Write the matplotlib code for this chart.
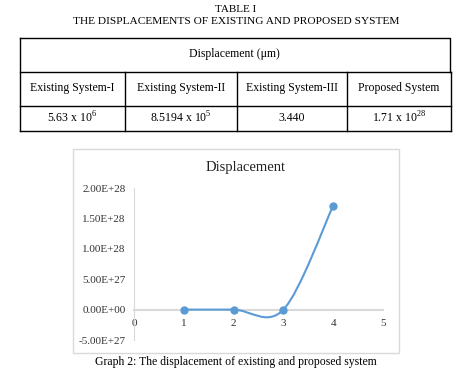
import matplotlib
matplotlib.use("Agg")
import matplotlib.pyplot as plt
from matplotlib.patches import Rectangle, PathPatch
from matplotlib.path import Path
from matplotlib.ticker import FuncFormatter

plt.rcParams['font.family'] = ['Liberation Serif', 'DejaVu Serif']
plt.rcParams['mathtext.fontset'] = 'custom'
plt.rcParams['mathtext.rm'] = 'Liberation Serif'

# table data
table_no = "TABLE I"
table_title = "THE DISPLACEMENTS OF EXISTING AND PROPOSED SYSTEM"
table_header = "Displacement (\u03bcm)"
systems = ["Existing System-I", "Existing System-II", "Existing System-III", "Proposed System"]
value_text = ["5.63 x 10$^{6}$", "8.5194 x 10$^{5}$", "3.440", "1.71 x 10$^{28}$"]

# chart data
x_vals = [1, 2, 3, 4]
displacement = [5.63e6, 8.5194e5, 3.440, 1.71e28]
x_ticks = [0, 1, 2, 3, 4, 5]
y_ticks = [-5e27, 0, 5e27, 1e28, 1.5e28, 2e28]
chart_title = "Displacement"
caption = "Graph 2: The displacement of existing and proposed system"

blue = "#5B9BD5"
grey = "#D9D9D9"

W, H = 472, 379
fig = plt.figure(figsize=(W / 100, H / 100), dpi=100)

# background layer in pixel coordinates for table, frame and caption
bg = fig.add_axes([0, 0, 1, 1])
bg.set_xlim(0, W)
bg.set_ylim(H, 0)
bg.axis('off')

bg.text(W / 2, 9, table_no, ha='center', va='center', fontsize=8)
bg.text(W / 2, 22, table_title, ha='center', va='center', fontsize=8.2)

left, right = 19.5, 451
col_edges = [left, 124.5, 237, 347, right]
top, mid1, mid2, bottom = 37.5, 71.5, 105.5, 131
lw = 1.0
bg.plot([left, 449.5, 449.5], [top, top, mid1], color='black', lw=lw)
bg.plot([left, left], [top, bottom], color='black', lw=lw)
bg.plot([left, right], [mid1, mid1], color='black', lw=lw)
bg.plot([left, right], [mid2, mid2], color='black', lw=lw)
bg.plot([left, right], [bottom, bottom], color='black', lw=lw)
for xe in col_edges[1:]:
    bg.plot([xe, xe], [mid1, bottom], color='black', lw=lw)
bg.text((left + 449.5) / 2, (top + mid1) / 2, table_header, ha='center', va='center', fontsize=8.5)
for i, (name, val) in enumerate(zip(systems, value_text)):
    cx = (col_edges[i] + col_edges[i + 1]) / 2
    bg.text(cx, (mid1 + mid2) / 2, name, ha='center', va='center', fontsize=8.5)
    bg.text(cx, (mid2 + bottom) / 2, val, ha='center', va='center', fontsize=8.5)

# chart frame
bg.add_patch(Rectangle((72.5, 148.5), 326, 204, fill=False, edgecolor=grey, lw=1))
bg.text(95, 362, caption, ha='left', va='center', fontsize=8.5)

# plot area
ax = fig.add_axes([134 / W, (H - 340) / H, (383 - 134) / W, (340 - 188) / H])
ax.set_xlim(0, 5)
ax.set_ylim(-5e27, 2e28)
ax.patch.set_alpha(0)
for s in ['top', 'right']:
    ax.spines[s].set_visible(False)
ax.spines['left'].set_color(grey)
ax.spines['bottom'].set_color(grey)
ax.spines['bottom'].set_position(('data', 0))
ax.spines['bottom'].set_linewidth(1.5)
ax.set_xticks(x_ticks)
ax.set_yticks(y_ticks)
ax.yaxis.set_major_formatter(FuncFormatter(lambda v, p: f"{v:.2E}"))
ax.tick_params(axis='both', length=0, labelsize=8, colors='#333333')
ax.tick_params(axis='x', pad=7)
ax.tick_params(axis='y', pad=6)

# smoothed line (Excel style cubic Bezier through the points)
pts = list(zip(x_vals, displacement))
verts = [pts[0]]
codes = [Path.MOVETO]
for i in range(len(pts) - 1):
    p0 = pts[max(i - 1, 0)]
    p1 = pts[i]
    p2 = pts[i + 1]
    p3 = pts[min(i + 2, len(pts) - 1)]
    c1 = (p1[0] + (p2[0] - p0[0]) / 6, p1[1] + (p2[1] - p0[1]) / 6)
    c2 = (p2[0] - (p3[0] - p1[0]) / 6, p2[1] - (p3[1] - p1[1]) / 6)
    verts += [c1, c2, p2]
    codes += [Path.CURVE4] * 3
ax.add_patch(PathPatch(Path(verts, codes), fill=False, edgecolor=blue, lw=1.5, zorder=3))
ax.plot(x_vals, displacement, linestyle='none', marker='o', markersize=5,
        color=blue, zorder=4)

fig.text(246 / W, 1 - 167 / H, chart_title, ha='center', va='center', fontsize=10.5, color='#222222')

fig.savefig("out.png", dpi=100)
